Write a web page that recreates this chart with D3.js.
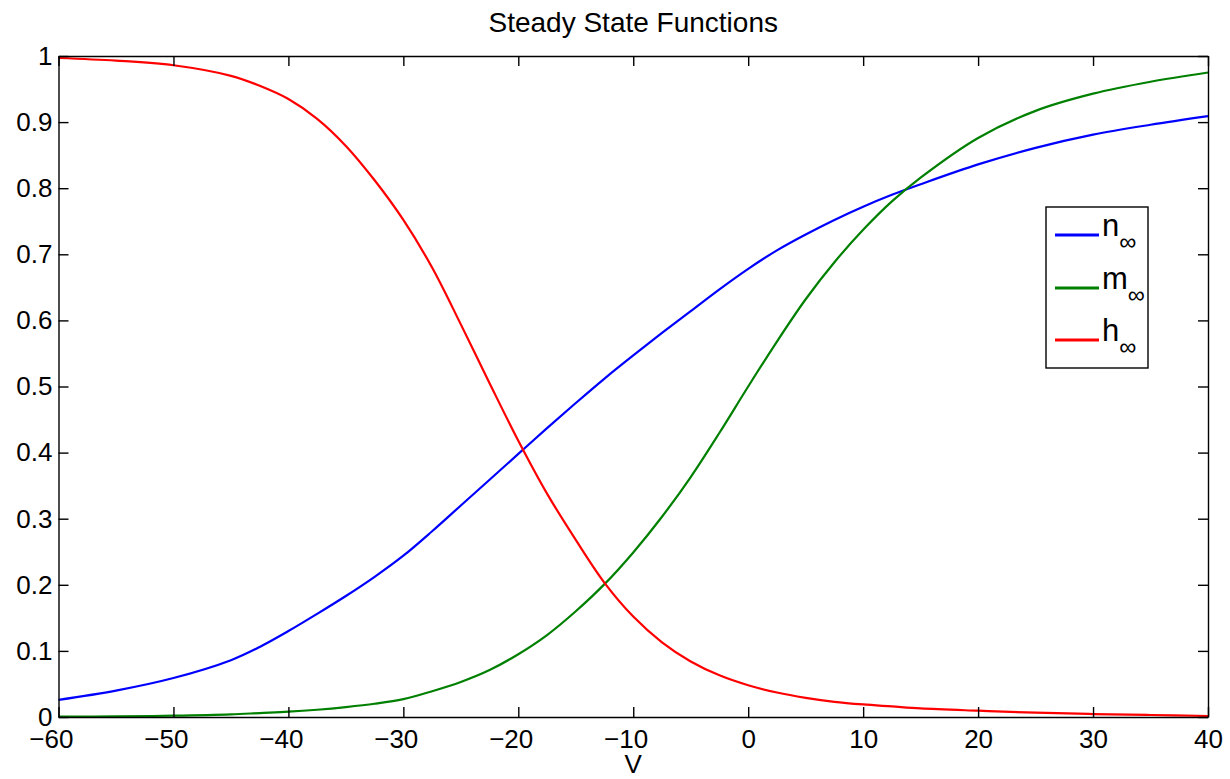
<!DOCTYPE html>
<html>
<head>
<meta charset="utf-8">
<script src="https://cdn.jsdelivr.net/npm/d3@7"></script>
<style>
  body { margin: 0; background: #fff; }
  text { font-family: "Liberation Sans", Arial, sans-serif; fill: #000; }
</style>
</head>
<body>
<svg id="chart" width="1230" height="779"></svg>
<script>
// membrane voltage (mV) at which the curves were read
var volts = [-60, -55, -50, -45, -42.5, -40, -37.5, -35, -32.5, -30, -27.5, -25, -22.5, -20, -17.5,
	-15, -12.5, -10, -7.5, -5, -2.5, 0, 2.5, 5, 7.5, 10, 12.5, 15, 20, 25, 30, 35, 40];

var nInf = [0.026, 0.040, 0.059, 0.086, 0.106, 0.130, 0.156, 0.183, 0.212, 0.244, 0.281, 0.320,
	0.359, 0.398, 0.437, 0.475, 0.512, 0.547, 0.581, 0.614, 0.647, 0.678, 0.706, 0.730, 0.752,
	0.772, 0.790, 0.806, 0.836, 0.861, 0.881, 0.896, 0.909];

var mInf = [0.0005, 0.001, 0.002, 0.004, 0.006, 0.008, 0.011, 0.015, 0.020, 0.027, 0.039, 0.053,
	0.071, 0.095, 0.124, 0.160, 0.201, 0.249, 0.303, 0.363, 0.430, 0.500, 0.568, 0.632, 0.688,
	0.737, 0.780, 0.816, 0.876, 0.917, 0.943, 0.961, 0.975];

var hInf = [0.997, 0.993, 0.986, 0.970, 0.955, 0.935, 0.905, 0.864, 0.812, 0.752, 0.680, 0.594,
	0.505, 0.418, 0.338, 0.268, 0.203, 0.152, 0.113, 0.084, 0.063, 0.048, 0.037, 0.029, 0.023,
	0.019, 0.016, 0.013, 0.0095, 0.0065, 0.0045, 0.003, 0.0015];

var seriesNames = ['n', 'm', 'h'];
var seriesColors = ['#0000ff', '#008000', '#ff0000'];
var xTicks = [-60, -50, -40, -30, -20, -10, 0, 10, 20, 30, 40];
var yTicks = [0, 0.1, 0.2, 0.3, 0.4, 0.5, 0.6, 0.7, 0.8, 0.9, 1];

var svg = d3.select('#chart');

var plotLeft = 58.5, plotRight = 1208, plotTop = 56, plotBottom = 717;

var xScale = d3.scaleLinear().domain([-60, 40]).range([plotLeft, plotRight]);
var yScale = d3.scaleLinear().domain([0, 1]).range([plotBottom, plotTop]);

var fontSize = 26;
var digitW = 0.556 * fontSize;

// curves
var series = [nInf, mInf, hInf];
var line = d3.line()
	.x(function(d) { return xScale(d[0]); })
	.y(function(d) { return yScale(d[1]); })
	.curve(d3.curveCatmullRom.alpha(0.5));

series.forEach(function(vals, i) {
	var pts = volts.map(function(v, j) { return [v, vals[j]]; });
	svg.append('path')
		.attr('d', line(pts))
		.attr('fill', 'none')
		.attr('stroke', seriesColors[i])
		.attr('stroke-width', 2.2);
});

// axes, ticks pointing inwards on all four sides
var fmtX = d3.format('d');
var fmtY = d3.format('~g');

var xAxis = svg.append('g')
	.attr('transform', 'translate(0,' + plotBottom + ')')
	.call(d3.axisBottom(xScale).tickValues(xTicks).tickSize(-10).tickSizeOuter(0)
		.tickPadding(13).tickFormat(fmtX));

// keep the digits centred on the tick, let the minus hang to the left
xAxis.selectAll('.tick text')
	.attr('text-anchor', 'end')
	.attr('x', function(d) {
		var n = String(Math.abs(d)).length;
		return n * digitW / 2;
	});

svg.append('g')
	.attr('transform', 'translate(' + plotLeft + ',0)')
	.call(d3.axisLeft(yScale).tickValues(yTicks).tickSize(-10).tickSizeOuter(0)
		.tickPadding(6).tickFormat(fmtY));

svg.append('g')
	.attr('transform', 'translate(0,' + plotTop + ')')
	.call(d3.axisTop(xScale).tickValues(xTicks).tickSize(-10).tickSizeOuter(0).tickFormat(''));

svg.append('g')
	.attr('transform', 'translate(' + plotRight + ',0)')
	.call(d3.axisRight(yScale).tickValues(yTicks).tickSize(-10).tickSizeOuter(0).tickFormat(''));

svg.selectAll('.domain, .tick line')
	.attr('stroke', '#000')
	.attr('stroke-width', 1.4);

svg.selectAll('.tick text')
	.attr('font-family', '"Liberation Sans", Arial, sans-serif')
	.attr('font-size', fontSize)
	.attr('fill', '#000');

// title and x label
svg.append('text')
	.attr('x', (plotLeft + plotRight) / 2)
	.attr('y', 32)
	.attr('text-anchor', 'middle')
	.attr('font-size', 28)
	.text('Steady State Functions');

svg.append('text')
	.attr('x', (plotLeft + plotRight) / 2)
	.attr('y', 773)
	.attr('text-anchor', 'middle')
	.attr('font-size', 26)
	.text('V');

// legend
var legend = svg.append('g');
legend.append('rect')
	.attr('x', 1046)
	.attr('y', 207)
	.attr('width', 102)
	.attr('height', 161)
	.attr('fill', '#fff')
	.attr('stroke', '#000')
	.attr('stroke-width', 1.4);

var legendY = [235, 288, 340];
seriesNames.forEach(function(name, i) {
	legend.append('line')
		.attr('x1', 1055)
		.attr('x2', 1099)
		.attr('y1', legendY[i])
		.attr('y2', legendY[i])
		.attr('stroke', seriesColors[i])
		.attr('stroke-width', 3);

	var t = legend.append('text')
		.attr('x', 1102)
		.attr('y', legendY[i] + 1)
		.attr('font-size', 31);
	t.append('tspan').text(name);
	t.append('tspan')
		.attr('dy', 14)
		.attr('font-size', 24)
		.text('\u221e');
});
</script>
</body>
</html>
